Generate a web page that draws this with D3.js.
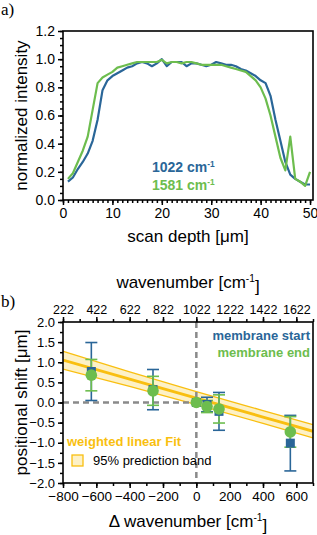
<!DOCTYPE html>
<html><head><meta charset="utf-8">
<script src="https://cdn.jsdelivr.net/npm/d3@7"></script>
<style>body{margin:0;background:#fff}svg{display:block;font-family:Arial,"Liberation Sans",sans-serif}</style>
</head><body><svg id="c" width="317" height="535"></svg>
<script>
// ---------- panel a data ----------
const depth = [1,2,3,4,5,6,7,8,9,10,11,12,13,14,15,16,17,18,19,20,21,22,23,24,25,26,27,28,29,30,31,32,33,34,35,36,37,38,39,40,41,42,43,44,45,46,47,48,49,50];
const int1022 = [0.13,0.16,0.22,0.27,0.33,0.42,0.57,0.78,0.85,0.88,0.90,0.92,0.94,0.95,0.97,0.98,0.97,0.95,0.97,1.00,0.95,0.98,0.98,0.98,0.95,0.97,0.97,0.96,0.95,0.96,0.98,0.97,0.96,0.96,0.95,0.93,0.92,0.90,0.88,0.85,0.83,0.74,0.57,0.42,0.27,0.18,0.15,0.13,0.11,0.11];
const int1581 = [0.15,0.19,0.27,0.35,0.45,0.64,0.83,0.87,0.89,0.91,0.94,0.95,0.96,0.97,0.98,0.98,0.98,0.98,0.98,0.995,0.97,0.98,0.98,0.97,0.98,0.98,0.97,0.96,0.96,0.96,0.96,0.96,0.95,0.94,0.93,0.92,0.91,0.88,0.85,0.80,0.72,0.60,0.45,0.30,0.21,0.45,0.15,0.13,0.10,0.20];
const xTicksA = [0,10,20,30,40,50];
const yTicksA = [0,0.2,0.4,0.6,0.8,1.0,1.2];
// ---------- panel b data ----------
const deltaWn   = [-630,-260,0,64,136,564];
const shiftStart= [0.77,0.32,0,-0.05,-0.22,-1.01];
const errStart  = [0.72,0.50,0,0.18,0.47,0.69];
const shiftEnd  = [0.68,0.29,0,-0.10,-0.16,-0.73];
const errEnd    = [0.39,0.36,0,0.15,0.35,0.38];
const fitX      = [-800,-400,0,400,700];
const fitY      = [1.054,0.582,0.11,-0.362,-0.716];
const bandUpper = [1.27,0.76,0.27,-0.20,-0.55];
const bandLower = [0.83,0.40,-0.05,-0.52,-0.88];
const xTicksB   = [-800,-600,-400,-200,0,200,400,600];
const topTicks  = [222,422,622,822,1022,1222,1422,1622];
const yTicksB   = [-2,-1.5,-1,-0.5,0,0.5,1,1.5,2];

const BLUE="#2a6698", GREEN="#6dbd4e", GOLD="#f9bf10", BAND="#fdf1c6", GRAY="#8a8a8a";
const svg = d3.select("#c");
const fmt1 = d => d3.format(".1f")(d).replace("-","\u2212");

function styleAxis(g, fs){
  g.select(".domain").remove();
  g.selectAll(".tick line").attr("stroke","#000").attr("stroke-width",1.5);
  g.selectAll(".tick text").attr("font-size",fs).attr("fill","#000").attr("font-family","Arial,'Liberation Sans',sans-serif");
}
function supText(sel, main, after){
  sel.append("tspan").text(main);
  sel.append("tspan").text("-1").attr("font-size","0.6em").attr("dy","-0.55em");
  sel.append("tspan").text(after).attr("dy","0.55em");
}

// ================= Panel a =================
const xA = d3.scaleLinear([0,50.6],[63,313]);
const yA = d3.scaleLinear([0,1.2],[200,31]);
const ga = svg.append("g");
ga.append("g").attr("transform","translate(0,200)")
  .call(d3.axisBottom(xA).tickValues(d3.range(0,51,1)).tickSize(3).tickFormat(""))
  .call(g=>styleAxis(g,0));
ga.append("g").attr("transform","translate(63,0)")
  .call(d3.axisLeft(yA).tickValues(d3.range(0,1.21,0.05)).tickSize(3).tickFormat(""))
  .call(g=>styleAxis(g,0));
ga.append("g").attr("transform","translate(0,200)")
  .call(d3.axisBottom(xA).tickValues(xTicksA).tickSize(5).tickPadding(3).tickFormat(d3.format("d")))
  .call(g=>styleAxis(g,14));
ga.append("g").attr("transform","translate(63,0)")
  .call(d3.axisLeft(yA).tickValues(yTicksA).tickSize(5).tickPadding(3).tickFormat(fmt1))
  .call(g=>styleAxis(g,14));
const lineA = d3.line().x((d,i)=>xA(depth[i])).y(d=>yA(d));
ga.append("path").datum(int1022).attr("d",lineA).attr("fill","none").attr("stroke",BLUE).attr("stroke-width",2.2).attr("stroke-linejoin","round");
ga.append("path").datum(int1581).attr("d",lineA).attr("fill","none").attr("stroke",GREEN).attr("stroke-width",2.2).attr("stroke-linejoin","round");
ga.append("rect").attr("x",63).attr("y",31).attr("width",250).attr("height",169).attr("fill","none").attr("stroke","#000").attr("stroke-width",1.6);
ga.append("text").attr("x",152).attr("y",172).attr("font-size",14).attr("font-weight","bold").attr("fill",BLUE).call(s=>supText(s,"1022 cm",""));
ga.append("text").attr("x",152).attr("y",190).attr("font-size",14).attr("font-weight","bold").attr("fill",GREEN).call(s=>supText(s,"1581 cm",""));
ga.append("text").attr("transform","translate(27,115.5) rotate(-90)").attr("text-anchor","middle").attr("font-size",17).text("normalized intensity");
ga.append("text").attr("x",188).attr("y",242).attr("text-anchor","middle").attr("font-size",17).text("scan depth [\u03bcm]");
svg.append("text").attr("x",1).attr("y",15).attr("font-family","'Liberation Serif','DejaVu Serif',serif").attr("font-size",17).text("a)");

// ================= Panel b =================
const xB = d3.scaleLinear([-800,700],[63,313]);
const xTop = d3.scaleLinear([222,1722],[63,313]);
const yB = d3.scaleLinear([-2,2],[483,322]);
const gb = svg.append("g");
svg.append("defs").append("clipPath").attr("id","clipB").append("rect").attr("x",63).attr("y",322).attr("width",250).attr("height",161);
gb.append("g").attr("transform","translate(0,483)")
  .call(d3.axisBottom(xB).tickValues(d3.range(-800,701,100)).tickSize(3).tickFormat("")).call(g=>styleAxis(g,0));
gb.append("g").attr("transform","translate(0,322)")
  .call(d3.axisTop(xTop).tickValues(d3.range(222,1723,100)).tickSize(3).tickFormat("")).call(g=>styleAxis(g,0));
gb.append("g").attr("transform","translate(63,0)")
  .call(d3.axisLeft(yB).tickValues(d3.range(-2,2.01,0.25)).tickSize(3).tickFormat("")).call(g=>styleAxis(g,0));
gb.append("g").attr("transform","translate(0,483)")
  .call(d3.axisBottom(xB).tickValues(xTicksB).tickSize(5).tickPadding(3).tickFormat(d=>String(d).replace("-","\u2212"))).call(g=>styleAxis(g,13.5));
gb.append("g").attr("transform","translate(0,322)")
  .call(d3.axisTop(xTop).tickValues(topTicks).tickSize(5).tickPadding(3).tickFormat(d3.format("d"))).call(g=>styleAxis(g,12.5));
gb.append("g").attr("transform","translate(63,0)")
  .call(d3.axisLeft(yB).tickValues(yTicksB).tickSize(5).tickPadding(3).tickFormat(fmt1)).call(g=>styleAxis(g,13));

const pc = gb.append("g").attr("clip-path","url(#clipB)");
const areaB = d3.area().x((d,i)=>xB(fitX[i])).y0((d,i)=>yB(bandLower[i])).y1(d=>yB(d)).curve(d3.curveMonotoneX);
pc.append("path").datum(bandUpper).attr("d",areaB).attr("fill",BAND);
const lineB = d3.line().x((d,i)=>xB(fitX[i])).y(d=>yB(d)).curve(d3.curveMonotoneX);
[bandUpper,bandLower].forEach(a=>pc.append("path").datum(a).attr("d",lineB).attr("fill","none").attr("stroke",GOLD).attr("stroke-width",1.3));
pc.append("path").datum(fitY).attr("d",lineB).attr("fill","none").attr("stroke",GOLD).attr("stroke-width",2.8);
pc.append("line").attr("x1",xB(0)).attr("x2",xB(0)).attr("y1",yB(2)).attr("y2",yB(-2)).attr("stroke",GRAY).attr("stroke-width",2.5).attr("stroke-dasharray","6,4");
pc.append("line").attr("x1",xB(-800)).attr("x2",xB(0)).attr("y1",yB(0)).attr("y2",yB(0)).attr("stroke",GRAY).attr("stroke-width",2.5).attr("stroke-dasharray","6,4");

function errBars(vals, errs, color){
  const g = gb.append("g").attr("stroke",color).attr("stroke-width",1.6);
  vals.forEach((v,i)=>{
    if(!errs[i]) return;
    const x = xB(deltaWn[i]), t=yB(v+errs[i]), b=yB(v-errs[i]);
    g.append("line").attr("x1",x).attr("x2",x).attr("y1",t).attr("y2",b);
    g.append("line").attr("x1",x-6).attr("x2",x+6).attr("y1",t).attr("y2",t);
    g.append("line").attr("x1",x-6).attr("x2",x+6).attr("y1",b).attr("y2",b);
  });
}
errBars(shiftStart, errStart, BLUE);
errBars(shiftEnd, errEnd, GREEN);
gb.append("g").selectAll("rect").data(shiftStart).join("rect")
  .attr("x",(d,i)=>xB(deltaWn[i])-4.5).attr("y",d=>yB(d)-4.5).attr("width",9).attr("height",9).attr("fill",BLUE);
gb.append("g").selectAll("circle").data(shiftEnd).join("circle")
  .attr("cx",(d,i)=>xB(deltaWn[i])).attr("cy",d=>yB(d)).attr("r",5.8).attr("fill",GREEN);
gb.append("rect").attr("x",63).attr("y",322).attr("width",250).attr("height",161).attr("fill","none").attr("stroke","#000").attr("stroke-width",1.6);

gb.append("text").attr("x",310).attr("y",340).attr("text-anchor","end").attr("font-size",13).attr("font-weight","bold").attr("fill",BLUE).text("membrane start");
gb.append("text").attr("x",310).attr("y",357).attr("text-anchor","end").attr("font-size",13).attr("font-weight","bold").attr("fill",GREEN).text("membrane end");
gb.append("text").attr("x",67).attr("y",446).attr("font-size",13).attr("font-weight","bold").attr("fill",GOLD).text("weighted linear Fit");
gb.append("rect").attr("x",72).attr("y",455).attr("width",11).attr("height",11).attr("fill",BAND).attr("stroke",GOLD).attr("stroke-width",1.3);
gb.append("text").attr("x",93).attr("y",465).attr("font-size",13).attr("fill","#000").text("95% prediction band");

gb.append("text").attr("x",188).attr("y",288).attr("text-anchor","middle").attr("font-size",17).call(s=>supText(s,"wavenumber [cm","]"));
gb.append("text").attr("x",188).attr("y",527).attr("text-anchor","middle").attr("font-size",17).call(s=>supText(s,"\u0394 wavenumber [cm","]"));
gb.append("text").attr("transform","translate(27,402.5) rotate(-90)").attr("text-anchor","middle").attr("font-size",17).text("positional shift [\u03bcm]");
svg.append("text").attr("x",1).attr("y",307).attr("font-family","'Liberation Serif','DejaVu Serif',serif").attr("font-size",17).text("b)");
</script></body></html>
